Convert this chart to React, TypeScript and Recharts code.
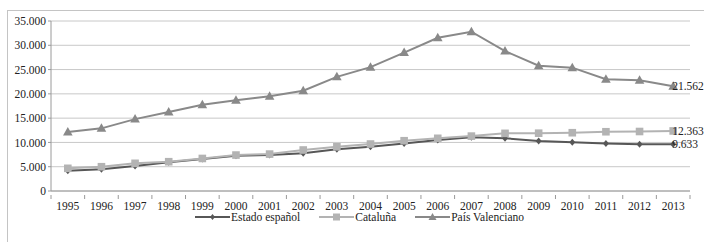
import React from 'react';
import { LineChart, Line, XAxis, YAxis, CartesianGrid, LabelList } from 'recharts';

const years = ['1995','1996','1997','1998','1999','2000','2001','2002','2003','2004','2005','2006','2007','2008','2009','2010','2011','2012','2013'];
const estado = [4180,4460,5140,5900,6580,7260,7400,7750,8580,9130,9800,10500,11050,10850,10290,10020,9800,9650,9633];
const cataluna = [4670,5000,5700,6030,6700,7400,7600,8440,9100,9670,10350,10850,11300,11870,11900,12000,12200,12250,12363];
const valenciano = [12140,12900,14800,16250,17750,18700,19500,20650,23500,25500,28500,31550,32800,28800,25800,25400,23000,22800,21562];
const yTicks = [0,5000,10000,15000,20000,25000,30000,35000];
const seriesNames = ['Estado español','Cataluña','País Valenciano'];
const colors = ['#575757','#b3b3b3','#898989'];

const data = years.map((y, i) => ({ year: y, estado: estado[i], cataluna: cataluna[i], valenciano: valenciano[i] }));

const FONT = 'Liberation Serif, Tinos, Times New Roman, DejaVu Serif, serif';
const fmt = (v: number) => v.toLocaleString('de-DE');

const W = 704, H = 242;
const M = { top: 21, right: 14, left: 7, bottom: 31 };
const YW = 44;
const halfBand = (W - M.left - YW - M.right) / years.length / 2;

const XTick = (props: any) => {
  const { x, y, payload, index } = props;
  return (
    <g>
      <line x1={x + halfBand} x2={x + halfBand} y1={y - 4} y2={y} stroke="#9a9a9a" />
      {index === 0 && <line x1={x - halfBand} x2={x - halfBand} y1={y - 4} y2={y} stroke="#9a9a9a" />}
      <text x={x} y={y + 11} textAnchor="middle" style={{ fontFamily: FONT }} fontSize={11.5} fill="#222">{payload.value}</text>
    </g>
  );
};

const Diamond = (props: any) => {
  const { cx, cy, stroke } = props;
  if (cx == null) return null;
  return <polygon points={`${cx},${cy - 3.5} ${cx + 3},${cy} ${cx},${cy + 3.5} ${cx - 3},${cy}`} fill={stroke} />;
};
const Square = (props: any) => {
  const { cx, cy, stroke } = props;
  if (cx == null) return null;
  return <rect x={cx - 3.8} y={cy - 3.8} width={7.6} height={7.6} fill={stroke} />;
};
const Triangle = (props: any) => {
  const { cx, cy, stroke } = props;
  if (cx == null) return null;
  return <polygon points={`${cx},${cy - 5} ${cx + 4.8},${cy + 3.5} ${cx - 4.8},${cy + 3.5}`} fill={stroke} />;
};

const lastLabel = (props: any) => {
  const { x, y, value, index } = props;
  if (index !== years.length - 1) return null;
  return <text x={x - 1} y={y + 4} textAnchor="start" style={{ fontFamily: FONT }} fontSize={11.5} fill="#222">{fmt(value)}</text>;
};

const LegendIcon = ({ i }: { i: number }) => {
  const c = colors[i];
  return (
    <svg width={35} height={10} style={{ display: 'block' }}>
      <line x1={0} x2={35} y1={5} y2={5} stroke={c} strokeWidth={2} />
      {i === 0 && <polygon points="17.5,2 20,5 17.5,8 15,5" fill={c} />}
      {i === 1 && <rect x={14} y={1.5} width={7} height={7} fill={c} />}
      {i === 2 && <polygon points="17.5,1 21.5,8 13.5,8" fill={c} />}
    </svg>
  );
};

export default function App() {
  return (
    <div style={{ position: 'absolute', left: 0, top: 0, width: W, height: H, background: '#fff', overflow: 'hidden', fontFamily: FONT }}>
      <div style={{ position: 'absolute', left: 7, top: 10, width: 720, height: 260, border: '1px solid #c4c4c4', boxSizing: 'border-box' }} />
      <div style={{ position: 'absolute', left: 0, top: 0 }}>
        <LineChart width={W} height={H} data={data} margin={M} style={{ fontFamily: FONT }}>
          <CartesianGrid vertical={false} stroke="#c8c8c8" />
          <XAxis dataKey="year" height={20} tickLine={false} tick={<XTick />} stroke="#9a9a9a" interval={0}
            padding={{ left: halfBand, right: halfBand }} />
          <YAxis width={YW} domain={[0, 35000]} ticks={yTicks} tickFormatter={fmt} stroke="#9a9a9a" tickSize={3}
            tick={{ fontSize: 11.5, fill: '#222', style: { fontFamily: FONT } }} />
          <Line dataKey="estado" name={seriesNames[0]} stroke={colors[0]} strokeWidth={2} dot={<Diamond />} isAnimationActive={false}>
            <LabelList dataKey="estado" content={lastLabel} />
          </Line>
          <Line dataKey="cataluna" name={seriesNames[1]} stroke={colors[1]} strokeWidth={2} dot={<Square />} isAnimationActive={false}>
            <LabelList dataKey="cataluna" content={lastLabel} />
          </Line>
          <Line dataKey="valenciano" name={seriesNames[2]} stroke={colors[2]} strokeWidth={2} dot={<Triangle />} isAnimationActive={false}>
            <LabelList dataKey="valenciano" content={lastLabel} />
          </Line>
        </LineChart>
      </div>
      <div style={{ position: 'absolute', left: 195, top: 211, display: 'flex', alignItems: 'center', gap: 19, fontSize: 11.5, color: '#222', whiteSpace: 'nowrap' }}>
        {seriesNames.map((n, i) => (
          <div key={n} style={{ display: 'flex', alignItems: 'center', gap: 1 }}>
            <LegendIcon i={i} />
            <span>{n}</span>
          </div>
        ))}
      </div>
    </div>
  );
}
